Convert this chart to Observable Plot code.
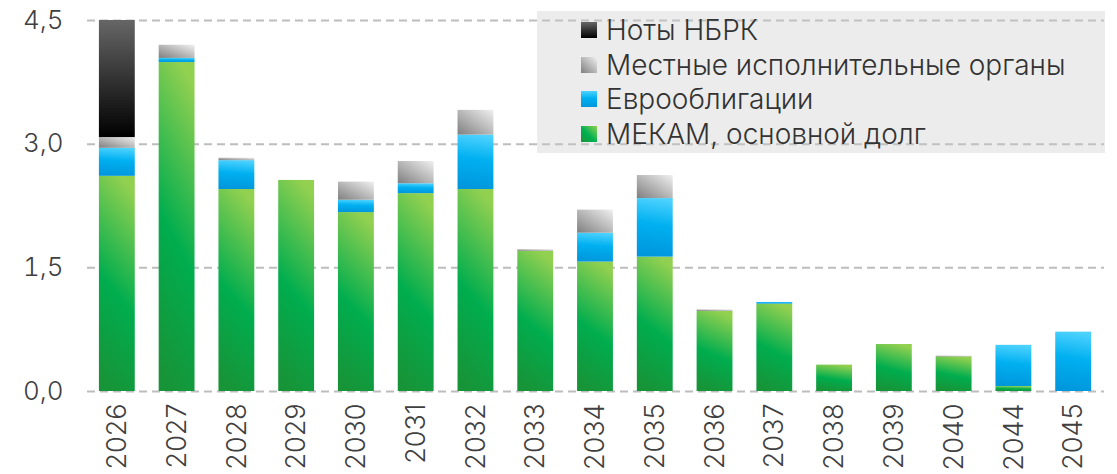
<!DOCTYPE html>
<html>
<head>
<meta charset="utf-8">
<script src="https://cdn.jsdelivr.net/npm/d3@7"></script>
<script src="https://cdn.jsdelivr.net/npm/@observablehq/plot@0.6"></script>
<style>
  html, body { margin: 0; padding: 0; background: #fff; }
  #wrap { position: relative; width: 1117px; height: 474px; font-family: Inter, "Open Sans", sans-serif; font-weight: 300; }
  #legend { position: absolute; left: 537px; top: 11px; width: 568px; height: 142px; background: rgba(200,200,200,0.35); }
  .item { position: absolute; left: 44px; height: 34px; display: flex; align-items: center; font-size: 28px; color: #333; white-space: nowrap; }
  .sw { width: 16px; height: 16px; margin-right: 9px; flex: none; }
</style>
</head>
<body>
<div id="wrap"></div>
<script>
// ---- data ----
const years = ["2026","2027","2028","2029","2030","2031","2032","2033","2034","2035","2036","2037","2038","2039","2040","2044","2045"];
const mekam = [2.61, 3.99, 2.45, 2.56, 2.17, 2.40, 2.45, 1.70, 1.57, 1.63, 0.97, 1.06, 0.32, 0.57, 0.42, 0.06, 0.00];
const euro  = [0.34, 0.05, 0.35, 0.00, 0.15, 0.12, 0.66, 0.00, 0.35, 0.71, 0.00, 0.02, 0.00, 0.00, 0.00, 0.50, 0.72];
const mio   = [0.13, 0.16, 0.03, 0.00, 0.22, 0.27, 0.30, 0.02, 0.28, 0.28, 0.02, 0.00, 0.00, 0.00, 0.01, 0.00, 0.00];
const notes = [1.42, 0.00, 0.00, 0.00, 0.00, 0.00, 0.00, 0.00, 0.00, 0.00, 0.00, 0.00, 0.00, 0.00, 0.00, 0.00, 0.00];
const seriesNames = ["МЕКАМ, основной долг", "Еврооблигации", "Местные исполнительные органы", "Ноты НБРК"];
const yTicks = [0, 1.5, 3, 4.5];

// ---- styles ----
const gradIds = ["gGreen", "gBlue", "gGray", "gBlack"];
const cssGrad = [
  "linear-gradient(to bottom left, #92d050, #00b050 55%, #1a9438)",
  "linear-gradient(to bottom, #4dd2ff, #00b0f0 45%, #0096dc)",
  "linear-gradient(to top right, #7f7f7f, #f0f0f0)",
  "linear-gradient(to bottom, #666666, #000000)"
];

const seriesValues = [mekam, euro, mio, notes];
const data = [];
years.forEach((yr, i) => {
  seriesNames.forEach((s, k) => data.push({year: yr, series: s, value: seriesValues[k][i]}));
});

const fmt = d => d3.format(".1f")(d).replace(".", ",");

const chart = Plot.plot({
  width: 1117,
  height: 474,
  marginLeft: 75,
  marginRight: 2,
  marginTop: 20,
  marginBottom: 83,
  x: {domain: years, padding: 0.4, round: false, label: null},
  y: {domain: [0, 4.5], label: null},
  color: {domain: seriesNames, range: gradIds.map(id => `url(#${id})`)},
  style: {fontFamily: "Inter, 'Open Sans', sans-serif", fontWeight: 300, color: "#404040", background: "transparent"},
  marks: [
    Plot.ruleY(yTicks, {stroke: "#bdbdbd", strokeWidth: 2, strokeDasharray: "8,5", insetLeft: 12, insetRight: 11}),
    Plot.barY(data, {x: "year", y: "value", fill: "series"}),
    Plot.axisY({ticks: yTicks, tickSize: 0, tickPadding: 12, tickFormat: fmt, fontSize: 26, fontWeight: 300}),
    Plot.axisX({tickSize: 0, tickRotate: -90, tickPadding: 12, fontSize: 27, fontWeight: 300, letterSpacing: "1px"})
  ]
});

// gradient definitions
const defs = d3.select(chart).insert("defs", ":first-child");
function grad(id, x1, y1, x2, y2, stops) {
  const g = defs.append("linearGradient").attr("id", id)
    .attr("x1", x1).attr("y1", y1).attr("x2", x2).attr("y2", y2);
  stops.forEach(([o, c]) => g.append("stop").attr("offset", o).attr("stop-color", c));
}
grad("gGreen", 0.6, 0, 0.4, 1, [[0, "#92d050"], [0.55, "#00ad4e"], [1, "#179438"]]);
grad("gBlue", 0.55, 0, 0.45, 1, [[0, "#4dd2ff"], [0.45, "#00b0f0"], [1, "#0096dc"]]);
grad("gGray", 0, 1, 1, 0, [[0, "#7f7f7f"], [1, "#f0f0f0"]]);
grad("gBlack", 0, 0, 0, 1, [[0, "#666666"], [1, "#000000"]]);

const wrap = document.getElementById("wrap");
wrap.appendChild(chart);

// legend (top to bottom: reverse of stacking order)
const legend = document.createElement("div");
legend.id = "legend";
[3, 2, 1, 0].forEach((k, row) => {
  const it = document.createElement("div");
  it.className = "item";
  it.style.top = (2 + row * 34.5) + "px";
  const sw = document.createElement("span");
  sw.className = "sw";
  sw.style.background = cssGrad[k];
  const tx = document.createElement("span");
  tx.textContent = seriesNames[k];
  it.appendChild(sw);
  it.appendChild(tx);
  legend.appendChild(it);
});
wrap.appendChild(legend);
</script>
</body>
</html>
